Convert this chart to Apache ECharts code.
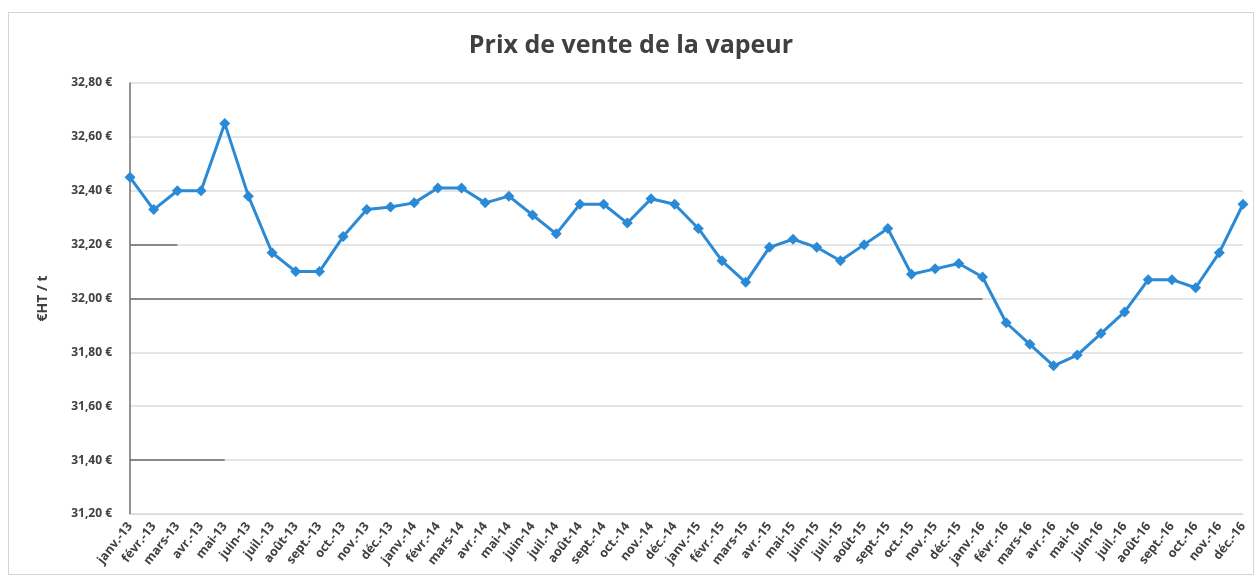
<!DOCTYPE html>
<html>
<head>
<meta charset="utf-8">
<script src="https://cdn.jsdelivr.net/npm/echarts@6/dist/echarts.min.js"></script>
<style>
  html, body { margin: 0; padding: 0; background: #ffffff; }
  #chart {
    position: absolute;
    left: 8px; top: 12px;
    width: 1246px; height: 570px;
    box-sizing: border-box;
  }
  #frame {
    position: absolute;
    left: 8px; top: 12px;
    width: 1246px; height: 563px;
    border: 1px solid #d4d4d4;
    box-sizing: border-box;
    pointer-events: none;
  }
</style>
</head>
<body>
<div id="chart"></div>
<div id="frame"></div>
<script>
const months = ["janv.", "févr.", "mars", "avr.", "mai", "juin", "juil.", "août", "sept.", "oct.", "nov.", "déc."];
const years = ["13", "14", "15", "16"];
const categories = [];
years.forEach((y) => months.forEach((m) => categories.push(m + "-" + y)));

// €HT / t
const prix2013 = [32.45, 32.33, 32.40, 32.40, 32.65, 32.38, 32.17, 32.10, 32.10, 32.23, 32.33, 32.34];
const prix2014 = [32.355, 32.41, 32.41, 32.355, 32.38, 32.31, 32.24, 32.35, 32.35, 32.28, 32.37, 32.35];
const prix2015 = [32.26, 32.14, 32.06, 32.19, 32.22, 32.19, 32.14, 32.20, 32.26, 32.09, 32.11, 32.13];
const prix2016 = [32.08, 31.91, 31.83, 31.75, 31.79, 31.87, 31.95, 32.07, 32.07, 32.04, 32.17, 32.35];
const prix = [].concat(prix2013, prix2014, prix2015, prix2016);

const chart = echarts.init(document.getElementById("chart"));
const textColor = "#404040";

// darker gridline pieces seen in the scan
const darkLine = (from, to, v) => [
  { coord: [from, v] },
  { coord: [to, v] },
];

const option = {
  animation: false,
  title: {
    text: "Prix de vente de la vapeur",
    left: "center",
    top: 16,
    textStyle: {
      fontFamily: "Open Sans",
      fontSize: 25,
      fontWeight: "bold",
      color: textColor,
    },
  },
  grid: {
    left: 122,
    right: 11,
    top: 71,
    bottom: 68,
  },
  xAxis: {
    type: "category",
    data: categories,
    boundaryGap: false,
    axisLine: { lineStyle: { color: "#d9d9d9" } },
    axisTick: { show: false },
    axisLabel: {
      rotate: 52,
      interval: 0,
      margin: 10,
      fontFamily: "Open Sans",
      fontSize: 12.5,
      fontWeight: "bold",
      color: textColor,
    },
  },
  yAxis: {
    type: "value",
    min: 31.2,
    max: 32.8,
    interval: 0.2,
    name: "€HT / t",
    nameLocation: "middle",
    nameGap: 80,
    nameTextStyle: {
      fontFamily: "Open Sans",
      fontSize: 14,
      fontWeight: "bold",
      color: textColor,
    },
    axisLine: { show: true, lineStyle: { color: "#6e6e6e", width: 1.5 } },
    axisTick: { show: false },
    splitLine: { lineStyle: { color: "#dcdcdc", width: 1.5 } },
    axisLabel: {
      margin: 18,
      fontFamily: "Open Sans",
      fontSize: 12,
      fontWeight: "bold",
      color: textColor,
      formatter: (v) => v.toFixed(2).replace(".", ",") + " €",
    },
  },
  series: [
    {
      name: "Prix de vente",
      type: "line",
      data: prix,
      symbol: "diamond",
      symbolSize: 11,
      lineStyle: { color: "#2b8ad6", width: 3 },
      itemStyle: { color: "#2b8ad6" },
      z: 3,
      markLine: {
        silent: true,
        symbol: "none",
        label: { show: false },
        lineStyle: { color: "#6a6a6a", width: 1.5, type: "solid" },
        data: [
          darkLine("janv.-13", "janv.-16", 32.0),
          darkLine("janv.-13", "mars-13", 32.2),
          darkLine("janv.-13", "mai-13", 31.4),
        ],
      },
    },
  ],
};

chart.setOption(option);
</script>
</body>
</html>
